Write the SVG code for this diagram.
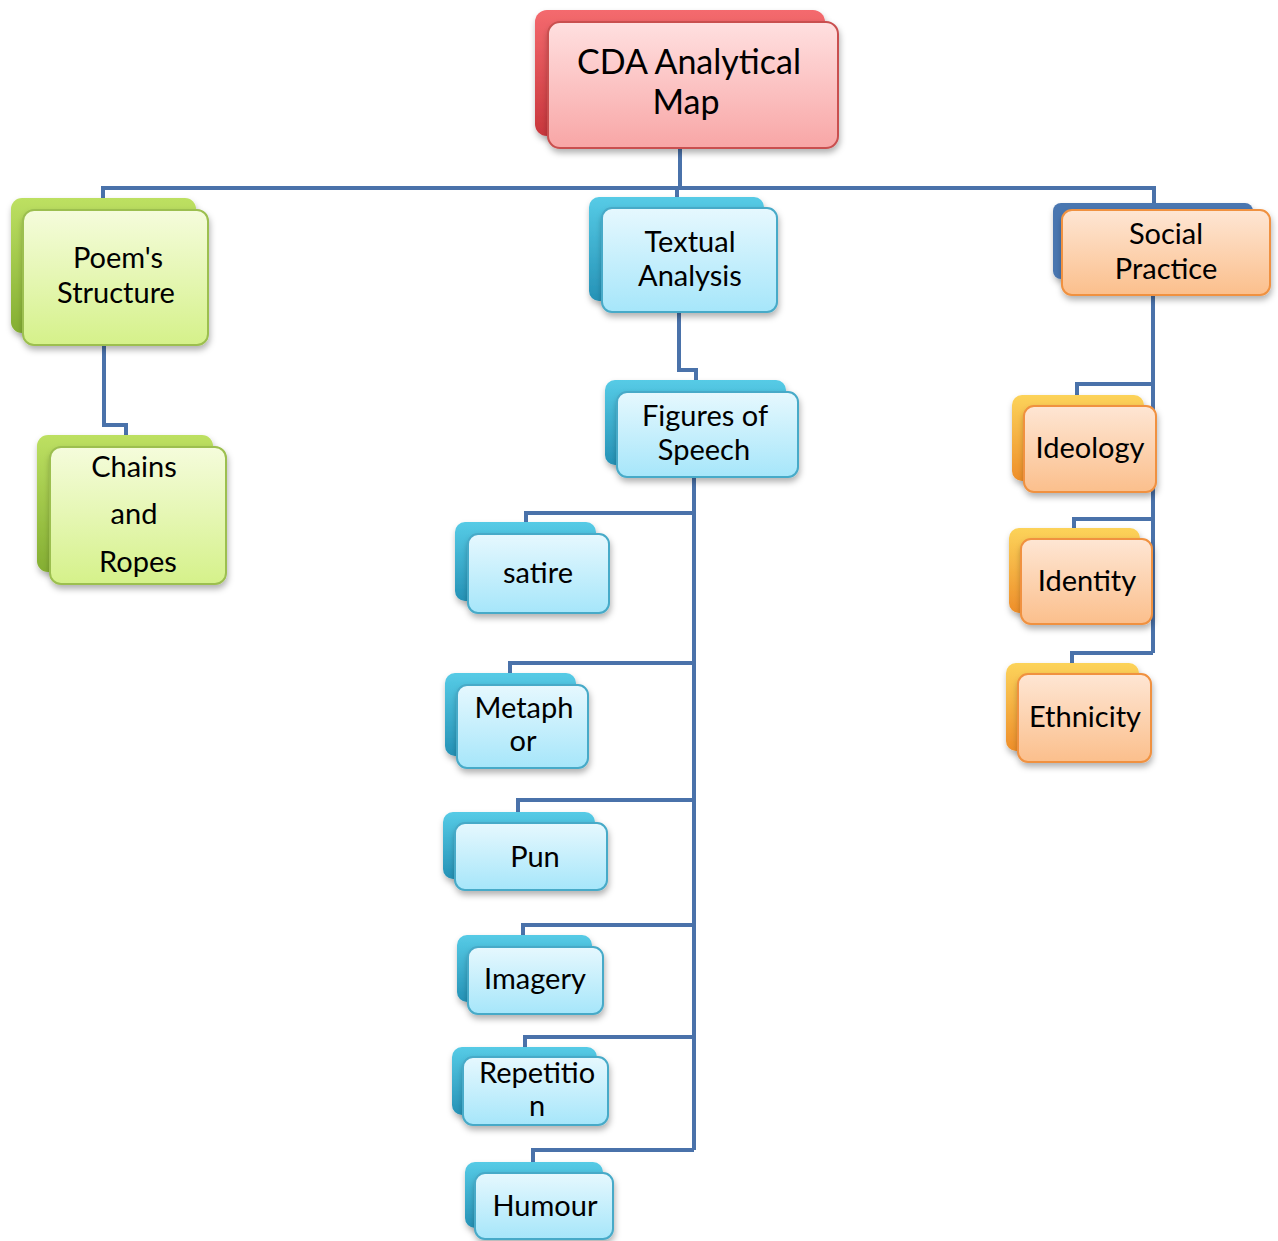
<svg xmlns="http://www.w3.org/2000/svg" width="1278" height="1241" viewBox="0 0 1278 1241">
<defs>
<style>
.conn{fill:none;stroke:#4a72aa;stroke-width:4;stroke-linejoin:miter}
.b{stroke:none;filter:url(#sh)}
.f{stroke-width:2;filter:url(#sh)}
.t{font-family:Lato,"Liberation Sans",sans-serif;font-size:29px;fill:#000;text-anchor:middle}
.tb{font-size:34px}
.rf{fill:url(#gRf);stroke:#c9504f}
.rb{fill:url(#gRb)}
.gf{fill:url(#gGf);stroke:#9cbf4f}
.gb{fill:url(#gGb)}
.bf{fill:url(#gBf);stroke:#46aac8}
.bb{fill:url(#gBb)}
.of{fill:url(#gOf);stroke:#f0913f}
.ob{fill:url(#gOb)}
.sb{fill:#4a76b0}
</style>
<filter id="sh" x="-10%" y="-10%" width="130%" height="140%">
<feDropShadow dx="1" dy="4" stdDeviation="3" flood-color="#000" flood-opacity="0.3"/>
</filter>
<linearGradient id="gRf" x1="0" y1="0" x2="0" y2="1"><stop offset="0" stop-color="#ffe0e0"/><stop offset="1" stop-color="#f8a6a6"/></linearGradient>
<linearGradient id="gRb" x1="0" y1="0" x2="0" y2="1"><stop offset="0" stop-color="#f46a6e"/><stop offset="1" stop-color="#c8363c"/></linearGradient>
<linearGradient id="gGf" x1="0" y1="0" x2="0" y2="1"><stop offset="0" stop-color="#f5fcdc"/><stop offset="1" stop-color="#d5f18a"/></linearGradient>
<linearGradient id="gGb" x1="0" y1="0" x2="0" y2="1"><stop offset="0" stop-color="#bde062"/><stop offset="1" stop-color="#84ae32"/></linearGradient>
<linearGradient id="gBf" x1="0" y1="0" x2="0" y2="1"><stop offset="0" stop-color="#e6f8fe"/><stop offset="1" stop-color="#a6e6fa"/></linearGradient>
<linearGradient id="gBb" x1="0" y1="0" x2="0" y2="1"><stop offset="0" stop-color="#56cbe6"/><stop offset="1" stop-color="#2592b6"/></linearGradient>
<linearGradient id="gOf" x1="0" y1="0" x2="0" y2="1"><stop offset="0" stop-color="#fee6d4"/><stop offset="1" stop-color="#fbbf8c"/></linearGradient>
<linearGradient id="gOb" x1="0" y1="0" x2="0" y2="1"><stop offset="0" stop-color="#fcd35a"/><stop offset="1" stop-color="#ee8e2a"/></linearGradient>
</defs>
<rect width="1278" height="1241" fill="#fff"/>
<g id="connectors">
<path class="conn" d="M680,148 V188"/>
<path class="conn" d="M103,198 V188 H1154 V203"/>
<path class="conn" d="M677,188 V208"/>
<path class="conn" d="M104,345 V425 H126 V435"/>
<path class="conn" d="M679,312 V370 H696 V380"/>
<path class="conn" d="M694,477 V1150"/>
<path class="conn" d="M694,513 H526 V522"/>
<path class="conn" d="M694,663 H510 V673"/>
<path class="conn" d="M694,800 H518 V812"/>
<path class="conn" d="M694,925 H523 V935"/>
<path class="conn" d="M694,1037 H525 V1047"/>
<path class="conn" d="M694,1150 H533 V1162"/>
<path class="conn" d="M1153,295 V653"/>
<path class="conn" d="M1153,384 H1077 V396"/>
<path class="conn" d="M1153,519 H1074 V529"/>
<path class="conn" d="M1153,653 H1072 V664"/>
</g>
<g id="n-cda">
<rect class="b rb" x="535" y="10" width="290" height="126" rx="12"/>
<rect class="f rf" x="548" y="22" width="290" height="126" rx="12"/>
<text class="t tb" x="689" y="74">CDA Analytical</text>
<text class="t tb" x="686" y="114">Map</text>
</g>
<g id="n-poem">
<rect class="b gb" x="11" y="198" width="185" height="135" rx="11"/>
<rect class="f gf" x="23" y="210" width="185" height="135" rx="11"/>
<text class="t" x="118" y="268">Poem's</text>
<text class="t" x="116" y="303">Structure</text>
</g>
<g id="n-chains">
<rect class="b gb" x="37" y="435" width="176" height="137" rx="11"/>
<rect class="f gf" x="50" y="447" width="176" height="137" rx="11"/>
<text class="t" x="134" y="477">Chains</text>
<text class="t" x="134" y="524">and</text>
<text class="t" x="138" y="572">Ropes</text>
</g>
<g id="n-textual">
<rect class="b bb" x="589" y="197" width="175" height="104" rx="10"/>
<rect class="f bf" x="602" y="208" width="175" height="104" rx="10"/>
<text class="t" x="690" y="252">Textual</text>
<text class="t" x="690" y="286">Analysis</text>
</g>
<g id="n-figures">
<rect class="b bb" x="605" y="380" width="181" height="85" rx="10"/>
<rect class="f bf" x="617" y="392" width="181" height="85" rx="10"/>
<text class="t" x="705" y="426">Figures of</text>
<text class="t" x="704" y="460">Speech</text>
</g>
<g id="n-satire">
<rect class="b bb" x="455" y="522" width="141" height="79" rx="10"/>
<rect class="f bf" x="468" y="534" width="141" height="79" rx="10"/>
<text class="t" x="538" y="583">satire</text>
</g>
<g id="n-metaphor">
<rect class="b bb" x="445" y="673" width="131" height="83" rx="10"/>
<rect class="f bf" x="457" y="685" width="131" height="83" rx="10"/>
<text class="t" x="524" y="718">Metaph</text>
<text class="t" x="523" y="751">or</text>
</g>
<g id="n-pun">
<rect class="b bb" x="443" y="812" width="152" height="67" rx="10"/>
<rect class="f bf" x="455" y="823" width="152" height="67" rx="10"/>
<text class="t" x="535" y="867">Pun</text>
</g>
<g id="n-imagery">
<rect class="b bb" x="457" y="935" width="135" height="67" rx="10"/>
<rect class="f bf" x="468" y="947" width="135" height="67" rx="10"/>
<text class="t" x="535" y="989">Imagery</text>
</g>
<g id="n-repetition">
<rect class="b bb" x="452" y="1047" width="145" height="68" rx="10"/>
<rect class="f bf" x="463" y="1057" width="145" height="68" rx="10"/>
<text class="t" x="537" y="1083">Repetitio</text>
<text class="t" x="537" y="1116">n</text>
</g>
<g id="n-humour">
<rect class="b bb" x="465" y="1162" width="138" height="66" rx="10"/>
<rect class="f bf" x="475" y="1173" width="138" height="66" rx="10"/>
<text class="t" x="545" y="1216">Humour</text>
</g>
<g id="n-social">
<rect class="b sb" x="1053" y="203" width="200" height="76" rx="8"/>
<rect class="f of" x="1062" y="210" width="208" height="85" rx="10"/>
<text class="t" x="1166" y="244">Social</text>
<text class="t" x="1166" y="279">Practice</text>
</g>
<g id="n-ideology">
<rect class="b ob" x="1012" y="395" width="132" height="86" rx="10"/>
<rect class="f of" x="1024" y="406" width="132" height="86" rx="10"/>
<text class="t" x="1090" y="458">Ideology</text>
</g>
<g id="n-identity">
<rect class="b ob" x="1009" y="528" width="131" height="85" rx="10"/>
<rect class="f of" x="1021" y="539" width="131" height="85" rx="10"/>
<text class="t" x="1087" y="591">Identity</text>
</g>
<g id="n-ethnicity">
<rect class="b ob" x="1006" y="663" width="133" height="88" rx="10"/>
<rect class="f of" x="1018" y="674" width="133" height="88" rx="10"/>
<text class="t" x="1085" y="727">Ethnicity</text>
</g>
</svg>
